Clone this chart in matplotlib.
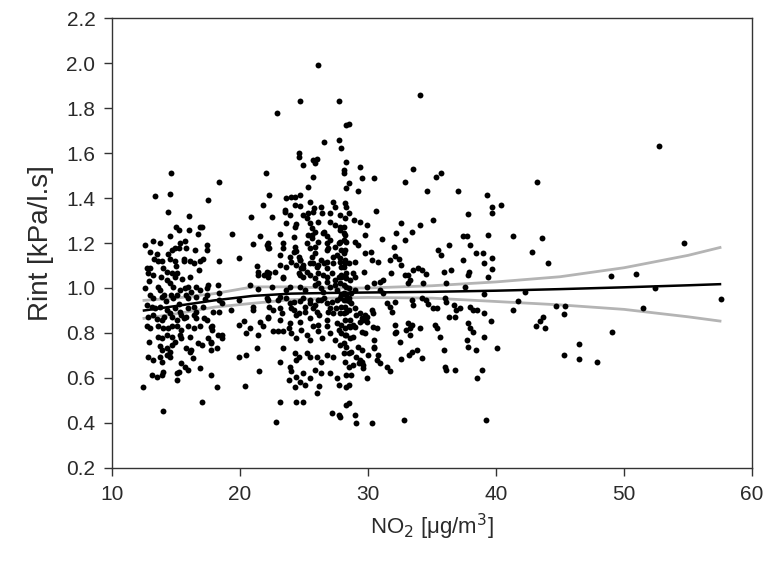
import numpy as np
import matplotlib
matplotlib.use("Agg")
import matplotlib.pyplot as plt
from matplotlib.ticker import FormatStrFormatter

plt.rcParams['font.family'] = ['Liberation Sans', 'DejaVu Sans']

# ---- data: (NO2 [ug/m3], Rint [kPa/l.s]) ----
pts_low_no2 = [
(18.4,1.47),(13.4,1.41),(14.5,1.42),(17.5,1.39),(14.4,1.34),(16.0,1.32),(15.0,1.27),(15.2,1.26),(16.0,1.26),(16.9,1.27),
(17.0,1.27),(13.2,1.21),(13.75,1.20),(14.5,1.23),(15.3,1.20),(15.2,1.18),(16.7,1.24),(17.4,1.19),(17.4,1.17),(14.7,1.17),
(14.9,1.18),(15.8,1.18),(13.5,1.15),(12.7,1.09),(13.0,1.09),(13.6,1.12),(13.9,1.12),(14.4,1.15),(14.5,1.13),(14.9,1.12),
(15.0,1.10),(15.6,1.13),(15.6,1.12),(16.1,1.12),(16.4,1.11),(16.9,1.12),(17.1,1.13),(18.4,1.12),(12.8,1.065),(13.2,1.06),
(14.0,1.09),(14.3,1.07),(14.7,1.065),(14.9,1.05),(15.05,1.065),(16.1,1.05),(14.3,1.035),(14.5,1.02),(13.6,1.006),(13.75,0.99),
(14.8,1.006),(15.3,0.99),(15.7,0.998),(15.96,1.006),(16.6,1.006),(16.9,0.99),(17.5,1.013),(18.3,1.013),(13.0,0.97),(13.2,0.955),
(13.9,0.96),(14.1,0.97),(14.8,0.955),(15.05,0.97),(15.8,0.97),(15.96,0.955),(16.6,0.96),(17.4,0.97),(18.4,0.976),(12.7,0.924),
(13.1,0.917),(13.4,0.91),(13.75,0.917),(14.3,0.902),(14.5,0.887),(14.9,0.91),(15.3,0.895),(15.96,0.91),(16.4,0.917),(16.6,0.895),
(17.1,0.917),(17.9,0.895),(18.4,0.895),(12.8,0.873),(13.2,0.88),(13.9,0.858),(14.1,0.873),(14.7,0.873),(15.05,0.858),(15.6,0.865),
(15.8,0.873),(16.4,0.88),(16.6,0.865),(17.4,0.858),(12.7,0.83),(13.0,0.82),(13.6,0.83),(14.0,0.82),(14.4,0.82),(14.7,0.83),
(15.05,0.83),(15.4,0.813),(15.96,0.83),(16.4,0.82),(16.9,0.83),(17.8,0.83),(18.3,0.79),(13.6,0.784),(13.9,0.776),(14.3,0.79),
(14.7,0.784),(15.3,0.79),(15.4,0.776),(16.1,0.784),(16.7,0.754),(17.0,0.747),(17.5,0.776),(17.7,0.754),(18.2,0.732),(13.75,0.74),
(13.9,0.725),(14.3,0.732),(14.5,0.717),(14.7,0.747),(15.8,0.732),(16.1,0.717),(16.2,0.725),(12.8,0.695),(13.2,0.68),(13.75,0.695),
(13.9,0.673),(14.3,0.702),(14.5,0.695),(15.4,0.665),(15.7,0.65),(15.96,0.636),(16.9,0.643),(13.1,0.613),(13.5,0.606),(13.9,0.613),
(14.0,0.628),(15.05,0.62),(15.2,0.628),(17.7,0.613),(12.45,0.56),(15.05,0.59),(18.2,0.56),(17.0,0.495),(14.0,0.453),(14.6,1.51),
(12.6,1.0),(12.9,1.03),(13.3,1.13),(13.8,1.05),(14.2,0.94),(14.6,0.97),(15.2,0.93),(15.5,1.04),(16.2,0.98),(16.8,1.08),
(15.4,0.88),(13.5,0.86),(14.9,0.76),(16.3,0.69),(12.9,0.76),(12.6,1.19),(13.0,1.16),(15.7,1.21),(16.5,1.17),
]

pts_mid_no2 = [
(21.8,1.37),(20.9,1.314),(19.4,1.24),(21.6,1.23),(21.0,1.194),(22.2,1.198),(22.2,1.176),(19.9,1.132),(21.3,1.10),(21.4,1.072),
(21.4,1.058),(22.2,1.05),(17.4,0.998),(20.8,1.013),(21.4,0.994),(17.3,0.95),(18.6,0.932),(19.3,0.902),(21.0,0.917),(21.0,0.902),
(22.2,0.872),(17.2,0.865),(19.9,0.835),(20.3,0.855),(20.8,0.824),(21.6,0.85),(17.7,0.828),(17.8,0.813),(20.5,0.80),(21.4,0.79),
(18.6,0.79),(18.6,0.776),(17.7,0.761),(17.7,0.724),(19.9,0.695),(20.5,0.702),(21.5,0.632),(20.4,0.564),(19.9,0.947),(21.8,0.829),
(21.3,0.732),(18.4,0.947),
]

pts_core_no2 = [
(26.1,1.99),(24.7,1.83),(27.7,1.83),(22.9,1.78),(28.3,1.725),(28.5,1.73),(26.6,1.65),(27.7,1.66),(27.9,1.621),(24.6,1.599),
(24.6,1.581),(25.7,1.57),(26.0,1.572),(25.9,1.554),(24.9,1.547),(28.1,1.525),(28.1,1.513),(22.0,1.513),(25.7,1.492),(28.5,1.466),
(25.3,1.451),(22.3,1.414),(23.6,1.399),(24.0,1.406),(24.3,1.406),(24.7,1.414),(23.5,1.347),(24.3,1.37),(24.7,1.365),(25.5,1.384),
(25.8,1.355),(26.3,1.362),(27.3,1.384),(27.4,1.362),(22.5,1.315),(23.9,1.325),(25.3,1.332),(25.2,1.31),(26.4,1.332),(27.8,1.325),
(28.2,1.31),(24.4,1.285),(24.3,1.273),(25.6,1.266),(25.9,1.251),(27.0,1.295),(23.1,1.24),(25.3,1.236),(25.6,1.221),(26.5,1.243),
(26.8,1.229),(27.0,1.214),(27.8,1.258),(28.2,1.236),(22.1,1.192),(22.3,1.177),(23.4,1.199),(23.4,1.177),(24.3,1.184),(24.4,1.166),
(25.5,1.177),(25.9,1.184),(26.8,1.199),(26.9,1.177),(27.4,1.184),(23.1,1.103),(23.9,1.14),(24.0,1.117),(24.7,1.125),(24.9,1.103),
(24.8,1.088),(25.6,1.14),(25.7,1.11),(26.0,1.095),(26.3,1.125),(26.6,1.11),(26.8,1.088),(27.3,1.14),(27.8,1.117),(28.1,1.095),
(21.9,1.058),(22.3,1.066),(22.7,1.073),(23.4,1.051),(24.6,1.066),(24.9,1.051),(25.5,1.058),(25.9,1.043),(26.1,1.066),(26.8,1.051),
(27.2,1.066),(27.4,1.036),(27.9,1.058),(28.3,1.043),(22.5,1.006),(23.6,0.992),(23.9,1.006),(24.7,1.006),(25.1,0.992),(25.9,1.014),
(26.3,0.999),(26.5,0.984),(27.0,1.006),(27.6,0.992),(28.1,1.014),(28.5,0.999),(22.2,0.947),(22.3,0.917),(23.0,0.947),(23.1,0.91),
(23.6,0.955),(23.9,0.932),(24.2,0.903),(24.7,0.94),(25.1,0.917),(24.6,0.888),(25.5,0.947),(25.9,0.925),(26.0,0.895),(26.3,0.947),
(26.8,0.932),(27.0,0.91),(27.3,0.888),(27.6,0.947),(27.9,0.917),(28.3,0.895),(28.5,0.94),(22.6,0.807),(23.0,0.807),(23.4,0.807),
(23.8,0.821),(24.0,0.799),(24.4,0.777),(24.8,0.814),(25.2,0.792),(25.5,0.769),(25.7,0.829),(26.1,0.807),(26.4,0.777),(26.8,0.829),
(27.0,0.799),(27.4,0.769),(27.7,0.814),(28.2,0.792),(28.5,0.829),(23.4,0.732),(24.3,0.710),(24.6,0.695),(24.4,0.68),(25.2,0.71),
(25.5,0.695),(26.0,0.695),(26.3,0.673),(26.8,0.703),(27.3,0.695),(28.1,0.71),(23.1,0.673),(23.9,0.651),(24.0,0.629),(24.4,0.606),
(24.9,0.621),(25.5,0.599),(25.9,0.636),(26.3,0.621),(27.0,0.621),(27.6,0.599),(23.8,0.592),(24.7,0.584),(24.3,0.562),(25.1,0.569),
(26.0,0.532),(27.7,0.569),(28.3,0.562),(23.1,0.495),(24.4,0.495),(24.9,0.495),(27.2,0.443),(27.7,0.436),(28.3,0.48),(22.8,0.406),
(26.2,0.565),
(23.5,1.339),(24.95,1.324),(25.7,1.339),(27.0,1.332),(28.5,1.332),(23.6,1.287),(25.5,1.287),(26.1,1.295),(27.4,1.28),(28.1,1.272),
(24.2,1.228),(25.6,1.235),(26.6,1.25),(25.2,1.198),(26.1,1.206),(27.7,1.198),(28.3,1.206),(23.1,1.147),(24.2,1.161),(24.6,1.139),
(24.7,1.125),(25.9,1.154),(26.8,1.169),(27.55,1.147),(28.2,1.169),(23.6,1.095),(24.4,1.102),(24.95,1.087),(25.5,1.11),(26.1,1.102),
(26.8,1.117),(27.3,1.11),(27.9,1.095),(28.5,1.11),(22.1,1.072),(23.4,1.043),(24.7,1.058),(25.2,1.072),(26.5,1.058),(27.7,1.05),
(28.3,1.065),(26.1,1.021),(26.8,1.028),(27.4,1.013),(22.1,0.954),(23.1,0.961),(24.2,0.939),(24.95,0.954),(25.5,0.932),(26.1,0.947),
(26.6,0.954),(27.2,0.939),(27.8,0.954),(28.3,0.947),(22.6,0.902),(23.3,0.887),(24.0,0.909),(24.4,0.88),(25.1,0.895),(25.7,0.909),
(26.2,0.88),(26.9,0.895),(27.5,0.909),(28.1,0.887),(22.2,0.865),(23.1,0.858),(23.9,0.843),(24.7,0.85),(25.5,0.865),(26.1,0.835),
(26.8,0.858),(27.55,0.843),(28.2,0.858),
]

pts_upper_no2 = [
(34.06,1.857),(28.3,1.561),(29.4,1.539),(29.5,1.49),(30.5,1.49),(33.5,1.531),(32.9,1.472),(35.3,1.494),(35.7,1.512),(34.6,1.431),
(37.0,1.431),(39.3,1.413),(28.3,1.443),(29.2,1.431),(28.2,1.376),(28.3,1.361),(30.6,1.342),(37.8,1.331),(28.9,1.302),(29.4,1.294),
(29.9,1.280),(32.6,1.29),(33.4,1.25),(34.1,1.28),(35.1,1.302),(32.2,1.243),(32.9,1.213),(29.8,1.235),(29.0,1.205),(29.2,1.191),
(28.1,1.213),(31.1,1.22),(37.4,1.231),(37.7,1.231),(37.97,1.191),(39.4,1.235),(36.3,1.191),(35.5,1.168),(35.7,1.146),(38.4,1.154),
(39.0,1.154),(29.8,1.154),(30.2,1.161),(32.0,1.183),(32.1,1.142),(32.4,1.131),(28.1,1.154),(28.2,1.124),(29.0,1.117),(30.3,1.124),
(30.8,1.117),(31.7,1.124),(32.6,1.102),(37.4,1.124),(39.1,1.112),(33.5,1.08),(33.9,1.087),(34.2,1.08),(34.5,1.062),(32.9,1.06),
(33.1,1.057),(33.3,1.035),(31.2,1.035),(30.9,1.028),(30.5,1.023),(31.8,1.065),(29.7,1.072),(28.8,1.065),(29.0,1.05),(28.6,1.035),
(35.9,1.072),(36.5,1.08),(37.9,1.072),(37.8,1.057),(39.4,1.05),(27.9,1.05),(33.1,1.02),(34.3,1.02),(36.1,1.02),(37.6,1.005),
(30.9,0.991),(31.2,0.976),(29.9,1.005),(28.1,0.976),(28.3,0.968),(28.7,0.976),
(27.8,1.27),(28.1,1.243),(27.8,1.206),(27.9,1.169),(27.8,1.132),(28.2,1.11),(28.2,1.05),(27.8,1.021),(28.3,1.006),(29.0,0.99),
]

pts_lower_no2 = [
(31.5,0.934),(31.7,0.917),(31.85,0.894),(32.1,0.939),(33.4,0.946),(33.5,0.924),(34.2,0.954),(34.5,0.946),(34.7,0.931),(35.1,0.909),
(35.4,0.909),(36.0,0.954),(36.1,0.939),(36.7,0.924),(36.9,0.902),(37.2,0.909),(37.97,0.917),(38.2,0.902),(38.5,0.902),(39.1,0.887),
(28.5,0.902),(29.0,0.909),(29.4,0.887),(29.5,0.865),(29.9,0.872),(30.3,0.902),(30.4,0.887),(36.3,0.872),(36.8,0.872),(27.9,0.835),
(28.6,0.828),(28.8,0.835),(29.4,0.85),(29.6,0.857),(30.4,0.828),(30.7,0.82),(32.1,0.835),(32.2,0.806),(33.1,0.843),(33.4,0.835),
(33.0,0.813),(33.3,0.791),(34.06,0.82),(35.2,0.835),(35.4,0.82),(37.8,0.843),(37.97,0.82),(38.2,0.806),(35.6,0.783),(39.1,0.783),
(28.8,0.783),(28.6,0.776),(28.1,0.754),(28.3,0.739),(29.2,0.739),(29.5,0.724),(30.5,0.768),(30.5,0.739),(30.8,0.702),(30.7,0.68),
(29.1,0.694),(29.4,0.68),(28.8,0.657),(28.5,0.65),(29.6,0.657),(31.5,0.647),(31.7,0.632),(32.6,0.683),(33.2,0.702),(33.4,0.717),
(34.2,0.687),(35.9,0.724),(36.0,0.65),(36.1,0.635),(36.8,0.635),(37.7,0.768),(37.8,0.739),(38.4,0.724),(38.5,0.598),(38.9,0.635),
(29.9,0.598),(28.5,0.568),(28.5,0.487),(29.0,0.435),(29.1,0.398),(30.3,0.398),(32.8,0.413),(39.2,0.413),
(27.9,0.969),(28.1,0.947),(28.5,0.954),(28.7,0.932),(28.2,0.917),(27.8,0.887),(28.6,0.858),(29.1,0.88),(29.8,0.88),(29.9,0.85),
(28.2,0.821),(27.9,0.799),(28.3,0.791),(29.0,0.828),(29.5,0.806),(29.8,0.799),(27.8,0.747),(28.5,0.71),(28.7,0.717),(28.2,0.673),
(29.5,0.673),(29.3,0.665),(30.0,0.702),(30.5,0.732),(30.9,0.665),(28.3,0.614),(28.7,0.614),(29.6,0.643),(32.1,0.799),(32.5,0.762),
(33.3,0.821),(33.8,0.725),(27.8,0.428),
]

pts_high_no2 = [
(52.76,1.632),(43.23,1.473),(39.7,1.362),(39.7,1.332),(40.4,1.371),(41.35,1.233),(43.6,1.223),(54.7,1.202),(39.7,1.132),(42.8,1.162),
(44.1,1.113),(39.7,1.083),(49.0,1.054),(50.9,1.063),(39.06,0.972),(42.3,0.983),(52.4,1.002),(57.55,0.952),(41.7,0.941),(41.35,0.903),
(39.6,0.854),(44.7,0.922),(45.4,0.922),(45.3,0.883),(51.5,0.911),(43.7,0.873),(43.4,0.854),(43.1,0.833),(43.8,0.823),(49.06,0.803),
(40.1,0.732),(46.5,0.753),(46.5,0.683),(45.3,0.703),(47.9,0.673),
]

# regression line and confidence band
fit_no2   = [12.5, 15, 18, 21, 24, 27, 30, 35, 40, 45, 50, 55, 57.5]
fit_rint  = [0.90, 0.92, 0.945, 0.965, 0.975, 0.978, 0.98, 0.983, 0.988, 0.995, 1.003, 1.012, 1.017]
ci_upper  = [0.945, 0.955, 0.975, 1.005, 1.005, 1.0, 1.0, 1.01, 1.027, 1.05, 1.09, 1.145, 1.18]
ci_lower  = [0.865, 0.885, 0.915, 0.932, 0.948, 0.955, 0.958, 0.955, 0.94, 0.925, 0.905, 0.872, 0.853]

x_ticks = [10, 20, 30, 40, 50, 60]
y_ticks = [0.2, 0.4, 0.6, 0.8, 1.0, 1.2, 1.4, 1.6, 1.8, 2.0, 2.2]

groups = [pts_low_no2, pts_mid_no2, pts_core_no2, pts_upper_no2, pts_lower_no2, pts_high_no2]
pts = np.array([p for g in groups for p in g])

fig = plt.figure(figsize=(7.69, 5.74), dpi=100)
ax = fig.add_axes([0.1456, 0.1847, 0.8323, 0.7839])

ax.scatter(pts[:, 0], pts[:, 1], s=18, c='black', linewidths=0, zorder=3)
ax.plot(fit_no2, ci_upper, color='#b4b4b4', lw=2.0, zorder=2)
ax.plot(fit_no2, ci_lower, color='#b4b4b4', lw=2.0, zorder=2)
ax.plot(fit_no2, fit_rint, color='black', lw=1.8, zorder=4)

ax.set_xlim(10, 60)
ax.set_ylim(0.2, 2.2)
ax.set_xticks(x_ticks)
ax.set_yticks(y_ticks)
ax.yaxis.set_major_formatter(FormatStrFormatter('%.1f'))
ax.tick_params(direction='out', length=6, width=1, labelsize=15, pad=6,
               color='#333333', labelcolor='#2a2a2a')
for sp in ax.spines.values():
    sp.set_linewidth(1.0)
    sp.set_color('#333333')

ax.set_ylabel('Rint [kPa/l.s]', fontsize=20, color='#2a2a2a', labelpad=9)
ax.set_xlabel('NO$_2$ [μg/m$^3$]', fontsize=16, color='#2a2a2a', labelpad=6)

fig.savefig('out.png', dpi=100)
